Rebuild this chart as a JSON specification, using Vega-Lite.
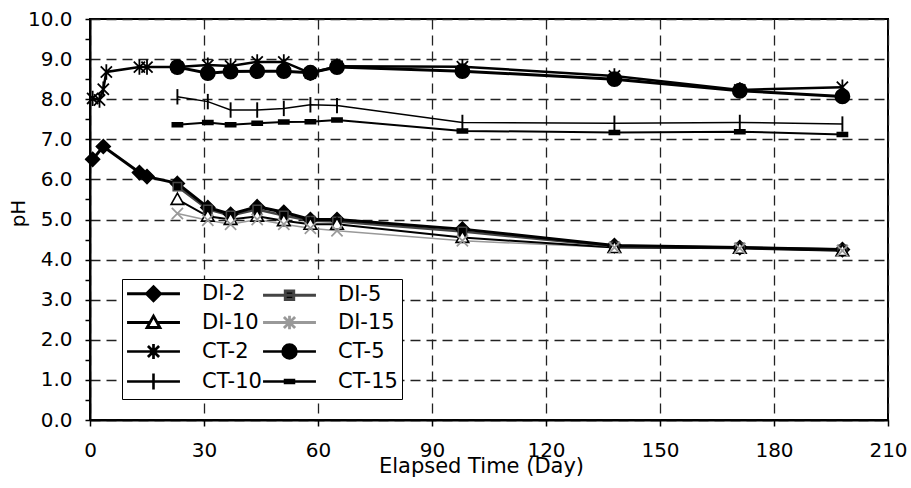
{
  "$schema": "https://vega.github.io/schema/vega-lite/v6.json",
  "width": 798,
  "height": 401,
  "autosize": {"type": "none"},
  "padding": {"left": 90, "top": 19, "right": 23, "bottom": 68},
  "background": "white",
  "config": {
    "view": {"stroke": "black", "strokeWidth": 2},
    "font": "DejaVu Sans"
  },
  "data": {
    "values": [
      {"series": "DI-2", "day": 0.7, "pH": 6.5},
      {"series": "DI-2", "day": 3.5, "pH": 6.82},
      {"series": "DI-2", "day": 13, "pH": 6.17},
      {"series": "DI-2", "day": 15, "pH": 6.07},
      {"series": "DI-2", "day": 23, "pH": 5.9},
      {"series": "DI-2", "day": 31, "pH": 5.3},
      {"series": "DI-2", "day": 37, "pH": 5.13},
      {"series": "DI-2", "day": 44, "pH": 5.32},
      {"series": "DI-2", "day": 51, "pH": 5.18},
      {"series": "DI-2", "day": 58, "pH": 5.0},
      {"series": "DI-2", "day": 65, "pH": 5.0},
      {"series": "DI-2", "day": 98, "pH": 4.76},
      {"series": "DI-2", "day": 138, "pH": 4.35},
      {"series": "DI-2", "day": 171, "pH": 4.3},
      {"series": "DI-2", "day": 198, "pH": 4.25},
      {"series": "DI-5", "day": 23, "pH": 5.82},
      {"series": "DI-5", "day": 31, "pH": 5.25},
      {"series": "DI-5", "day": 37, "pH": 5.1},
      {"series": "DI-5", "day": 44, "pH": 5.25},
      {"series": "DI-5", "day": 51, "pH": 5.1},
      {"series": "DI-5", "day": 58, "pH": 4.97},
      {"series": "DI-5", "day": 65, "pH": 4.95},
      {"series": "DI-5", "day": 98, "pH": 4.7},
      {"series": "DI-5", "day": 138, "pH": 4.33},
      {"series": "DI-5", "day": 171, "pH": 4.3},
      {"series": "DI-5", "day": 198, "pH": 4.25},
      {"series": "DI-10", "day": 23, "pH": 5.5},
      {"series": "DI-10", "day": 31, "pH": 5.08},
      {"series": "DI-10", "day": 37, "pH": 5.0},
      {"series": "DI-10", "day": 44, "pH": 5.08},
      {"series": "DI-10", "day": 51, "pH": 4.97},
      {"series": "DI-10", "day": 58, "pH": 4.88},
      {"series": "DI-10", "day": 65, "pH": 4.88},
      {"series": "DI-10", "day": 98, "pH": 4.55},
      {"series": "DI-10", "day": 138, "pH": 4.3},
      {"series": "DI-10", "day": 171, "pH": 4.28},
      {"series": "DI-10", "day": 198, "pH": 4.22},
      {"series": "DI-15", "day": 23, "pH": 5.15},
      {"series": "DI-15", "day": 31, "pH": 4.98},
      {"series": "DI-15", "day": 37, "pH": 4.88},
      {"series": "DI-15", "day": 44, "pH": 5.0},
      {"series": "DI-15", "day": 51, "pH": 4.88},
      {"series": "DI-15", "day": 58, "pH": 4.78},
      {"series": "DI-15", "day": 65, "pH": 4.72},
      {"series": "DI-15", "day": 98, "pH": 4.47},
      {"series": "DI-15", "day": 138, "pH": 4.3},
      {"series": "DI-15", "day": 171, "pH": 4.28},
      {"series": "DI-15", "day": 198, "pH": 4.22},
      {"series": "CT-2", "day": 0.7, "pH": 8.02},
      {"series": "CT-2", "day": 2.5, "pH": 7.98},
      {"series": "CT-2", "day": 3.5, "pH": 8.25},
      {"series": "CT-2", "day": 4.3, "pH": 8.68},
      {"series": "CT-2", "day": 13, "pH": 8.8},
      {"series": "CT-2", "day": 15, "pH": 8.8},
      {"series": "CT-2", "day": 23, "pH": 8.8},
      {"series": "CT-2", "day": 31, "pH": 8.85},
      {"series": "CT-2", "day": 37, "pH": 8.83},
      {"series": "CT-2", "day": 44, "pH": 8.93},
      {"series": "CT-2", "day": 51, "pH": 8.93},
      {"series": "CT-2", "day": 58, "pH": 8.65},
      {"series": "CT-2", "day": 65, "pH": 8.82},
      {"series": "CT-2", "day": 98, "pH": 8.81},
      {"series": "CT-2", "day": 138, "pH": 8.58},
      {"series": "CT-2", "day": 171, "pH": 8.23},
      {"series": "CT-2", "day": 198, "pH": 8.3},
      {"series": "CT-5", "day": 23, "pH": 8.8},
      {"series": "CT-5", "day": 31, "pH": 8.65},
      {"series": "CT-5", "day": 37, "pH": 8.69},
      {"series": "CT-5", "day": 44, "pH": 8.7},
      {"series": "CT-5", "day": 51, "pH": 8.7},
      {"series": "CT-5", "day": 58, "pH": 8.66},
      {"series": "CT-5", "day": 65, "pH": 8.8},
      {"series": "CT-5", "day": 98, "pH": 8.7},
      {"series": "CT-5", "day": 138, "pH": 8.5},
      {"series": "CT-5", "day": 171, "pH": 8.21},
      {"series": "CT-5", "day": 198, "pH": 8.07},
      {"series": "CT-10", "day": 23, "pH": 8.06},
      {"series": "CT-10", "day": 31, "pH": 7.94},
      {"series": "CT-10", "day": 37, "pH": 7.73},
      {"series": "CT-10", "day": 44, "pH": 7.73},
      {"series": "CT-10", "day": 51, "pH": 7.77},
      {"series": "CT-10", "day": 58, "pH": 7.86},
      {"series": "CT-10", "day": 65, "pH": 7.84},
      {"series": "CT-10", "day": 98, "pH": 7.42},
      {"series": "CT-10", "day": 138, "pH": 7.4},
      {"series": "CT-10", "day": 171, "pH": 7.42},
      {"series": "CT-10", "day": 198, "pH": 7.38},
      {"series": "CT-15", "day": 23, "pH": 7.36},
      {"series": "CT-15", "day": 31, "pH": 7.42},
      {"series": "CT-15", "day": 37, "pH": 7.36},
      {"series": "CT-15", "day": 44, "pH": 7.4},
      {"series": "CT-15", "day": 51, "pH": 7.43},
      {"series": "CT-15", "day": 58, "pH": 7.44},
      {"series": "CT-15", "day": 65, "pH": 7.48},
      {"series": "CT-15", "day": 98, "pH": 7.21},
      {"series": "CT-15", "day": 138, "pH": 7.17},
      {"series": "CT-15", "day": 171, "pH": 7.19},
      {"series": "CT-15", "day": 198, "pH": 7.12}
    ]
  },
  "encoding": {
    "x": {
      "field": "day", "type": "quantitative",
      "scale": {"domain": [0, 210], "nice": false, "zero": false},
      "axis": {
        "values": [0, 30, 60, 90, 120, 150, 180, 210],
        "grid": true, "gridDash": [10, 6], "gridColor": "#222", "gridWidth": 1.3,
        "domainColor": "black", "domainWidth": 2,
        "tickColor": "black", "tickSize": 6, "tickWidth": 1.5,
        "labelFont": "DejaVu Sans", "labelFontSize": 20, "labelColor": "black", "labelPadding": 14, "labelFlush": false,
        "title": "Elapsed Time (Day)", "titleFont": "DejaVu Sans", "titleFontSize": 21, "titleFontWeight": "normal", "titleColor": "black",
        "titleX": 391, "titleY": 52, "titleBaseline": "alphabetic", "titleAlign": "center"
      }
    },
    "y": {
      "field": "pH", "type": "quantitative",
      "scale": {"domain": [0, 10], "nice": false},
      "axis": {
        "values": [0, 0.5, 1, 1.5, 2, 2.5, 3, 3.5, 4, 4.5, 5, 5.5, 6, 6.5, 7, 7.5, 8, 8.5, 9, 9.5, 10],
        "labelExpr": "datum.value % 1 === 0 ? format(datum.value, '.1f') : ''",
        "grid": true, "gridDash": [10, 6], "gridColor": "#222", "gridWidth": 1.3,
        "gridOpacity": {"condition": {"test": "datum.value % 1 === 0", "value": 1}, "value": 0},
        "domainColor": "black", "domainWidth": 2,
        "tickColor": "black", "tickSize": 5, "tickWidth": 1.5,
        "labelFont": "DejaVu Sans", "labelFontSize": 20, "labelColor": "black", "labelPadding": 13, "labelFlush": false,
        "title": "pH", "titleFont": "DejaVu Sans", "titleFontSize": 20, "titleFontWeight": "normal", "titleColor": "black",
        "titleX": -66, "titleY": 194, "titleAngle": 270, "titleBaseline": "alphabetic", "titleAlign": "center"
      }
    }
  },
  "layer": [
    {"transform": [{"filter": "datum.series === 'DI-15'"}], "mark": {"type": "line", "color": "#999", "strokeWidth": 1.5}},
    {"transform": [{"filter": "datum.series === 'DI-10'"}], "mark": {"type": "line", "color": "black", "strokeWidth": 2}},
    {"transform": [{"filter": "datum.series === 'DI-5'"}], "mark": {"type": "line", "color": "#444", "strokeWidth": 2.5}},
    {"transform": [{"filter": "datum.series === 'DI-2'"}], "mark": {"type": "line", "color": "black", "strokeWidth": 3}},
    {"transform": [{"filter": "datum.series === 'CT-15'"}], "mark": {"type": "line", "color": "black", "strokeWidth": 2}},
    {"transform": [{"filter": "datum.series === 'CT-10'"}], "mark": {"type": "line", "color": "black", "strokeWidth": 1.5}},
    {"transform": [{"filter": "datum.series === 'CT-5'"}], "mark": {"type": "line", "color": "black", "strokeWidth": 3}},
    {"transform": [{"filter": "datum.series === 'CT-2'"}], "mark": {"type": "line", "color": "black", "strokeWidth": 2.5}},
    {
      "mark": {"type": "point", "opacity": 1, "size": 196},
      "encoding": {
        "shape": {
          "field": "series", "type": "nominal",
          "scale": {"domain": ["CT-15", "CT-10", "CT-5", "CT-2", "DI-15", "DI-10", "DI-5", "DI-2"],
                    "range": [
                      "M-0.7,-0.25L0.7,-0.25L0.7,0.25L-0.7,0.25Z",
                      "M0,-1.1L0,1.1",
                      "M-1,0A1,1,0,1,0,1,0A1,1,0,1,0,-1,0Z",
                      "M-0.8,-0.8L0.8,0.8M-0.8,0.8L0.8,-0.8M0,-1.1L0,1.1",
                      "M-0.8,-0.8L0.8,0.8M-0.8,0.8L0.8,-0.8",
                      "M0,-0.9L0.9,0.7L-0.9,0.7Z",
                      "M-0.6,-0.6L0.6,-0.6L0.6,0.6L-0.6,0.6Z",
                      "M0,-1L1,0L0,1L-1,0Z"
                    ]},
          "legend": null
        },
        "fill": {
          "field": "series", "type": "nominal",
          "scale": {"domain": ["CT-15", "CT-10", "CT-5", "CT-2", "DI-15", "DI-10", "DI-5", "DI-2"],
                    "range": ["black", "transparent", "black", "transparent", "transparent", "white", "black", "black"]},
          "legend": null
        },
        "stroke": {
          "field": "series", "type": "nominal",
          "scale": {"domain": ["CT-15", "CT-10", "CT-5", "CT-2", "DI-15", "DI-10", "DI-5", "DI-2"],
                    "range": ["black", "black", "black", "black", "#999", "black", "#444", "black"]},
          "legend": null
        },
        "strokeWidth": {
          "field": "series", "type": "nominal",
          "scale": {"domain": ["CT-15", "CT-10", "CT-5", "CT-2", "DI-15", "DI-10", "DI-5", "DI-2"],
                    "range": [2, 1.5, 3, 2.5, 1.5, 2, 2.5, 3]},
          "legend": null
        }
      }
    },
    {
      "mark": {"type": "point", "opacity": 1, "size": 0},
      "encoding": {
        "shape": {
          "field": "series", "type": "nominal",
          "scale": {"domain": ["DI-2", "DI-5", "DI-10", "DI-15", "CT-2", "CT-5", "CT-10", "CT-15"],
                    "range": [
                      "M-2.94,0L2.94,0M0,-0.77L0.77,0L0,0.77L-0.77,0Z",
                      "M-2.94,0L2.94,0M-0.47,-0.47L0.47,-0.47L0.47,0.47L-0.47,0.47Z",
                      "M-2.94,0L-0.39,0M0.39,0L2.94,0M0,-0.71L0.71,0.56L-0.71,0.56Z",
                      "M-2.94,0L2.94,0M-0.62,-0.62L0.62,0.62M-0.62,0.62L0.62,-0.62M0,-0.74L0,0.74",
                      "M-2.94,0L2.94,0M-0.62,-0.62L0.62,0.62M-0.62,0.62L0.62,-0.62M0,-0.82L0,0.82",
                      "M-2.94,0L2.94,0M-0.77,0A0.77,0.77,0,1,0,0.77,0A0.77,0.77,0,1,0,-0.77,0Z",
                      "M-2.94,0L2.94,0M0,-0.88L0,0.88",
                      "M-2.94,0L2.94,0M-0.5,-0.18L0.5,-0.18L0.5,0.18L-0.5,0.18Z"
                    ]},
          "legend": {
            "title": null, "orient": "none", "legendX": 32, "legendY": 260, "columns": 2, "direction": "horizontal",
            "symbolSize": 324, "symbolOffset": 17, "labelFont": "DejaVu Sans", "labelFontSize": 21, "labelColor": "black",
            "labelOffset": 38, "columnPadding": -8, "rowPadding": 3, "padding": 4,
            "strokeColor": "black", "fillColor": "white"
          }
        },
        "fill": {
          "field": "series", "type": "nominal",
          "scale": {"domain": ["DI-2", "DI-5", "DI-10", "DI-15", "CT-2", "CT-5", "CT-10", "CT-15"],
                    "range": ["black", "black", "white", "transparent", "transparent", "black", "transparent", "black"]},
          "legend": {"title": null}
        },
        "stroke": {
          "field": "series", "type": "nominal",
          "scale": {"domain": ["DI-2", "DI-5", "DI-10", "DI-15", "CT-2", "CT-5", "CT-10", "CT-15"],
                    "range": ["black", "#444", "black", "#999", "black", "black", "black", "black"]},
          "legend": {"title": null}
        },
        "strokeWidth": {
          "field": "series", "type": "nominal",
          "scale": {"domain": ["DI-2", "DI-5", "DI-10", "DI-15", "CT-2", "CT-5", "CT-10", "CT-15"],
                    "range": [3, 2.5, 2, 1.5, 2.5, 3, 1.5, 2]},
          "legend": {"title": null}
        }
      }
    }
  ],
  "resolve": {"scale": {"shape": "independent", "fill": "independent", "stroke": "independent", "strokeWidth": "independent"}}
}
